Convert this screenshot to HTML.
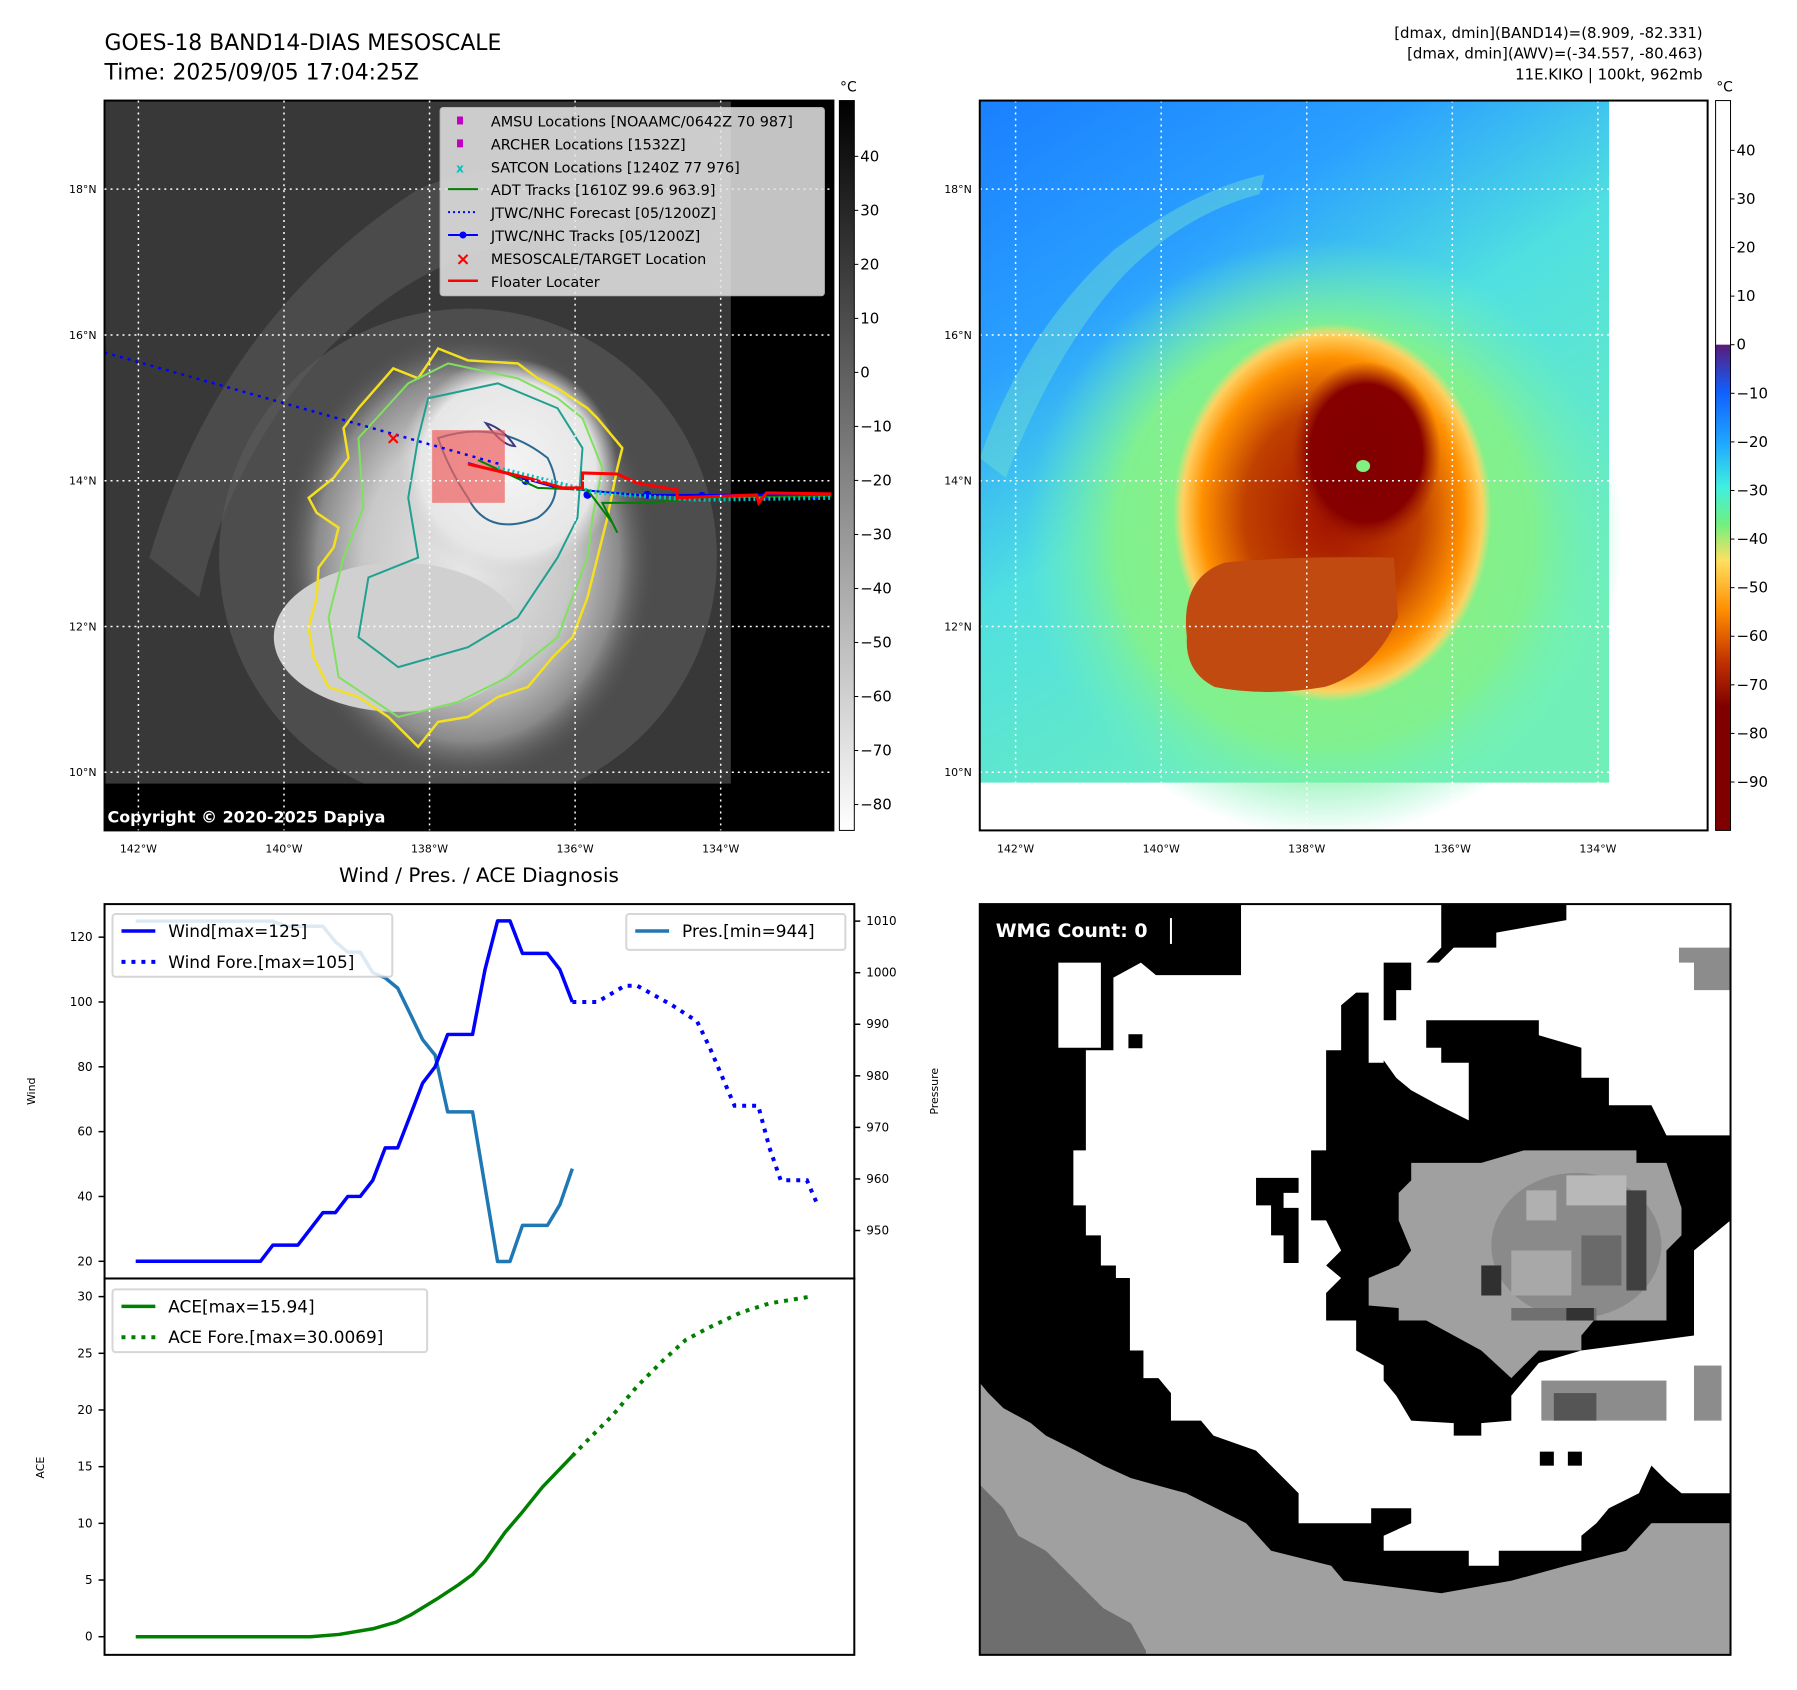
<!DOCTYPE html>
<html><head><meta charset="utf-8">
<style>
html,body{margin:0;padding:0;background:#fff;}
svg{display:block;font-family:"DejaVu Sans","Liberation Sans",sans-serif;}
</style></head>
<body>
<svg id="fig" width="1797" height="1690" viewBox="0 0 1797 1690" xmlns="http://www.w3.org/2000/svg">
<defs>
  <linearGradient id="gray-cb" x1="0" y1="0" x2="0" y2="1">
    <stop offset="0" stop-color="#000"/><stop offset="1" stop-color="#fff"/>
  </linearGradient>
  <linearGradient id="jet-cb" x1="0" y1="0" x2="0" y2="1">
    <stop offset="0" stop-color="#fff"/><stop offset="0.3345" stop-color="#fff"/>
    <stop offset="0.3346" stop-color="#5a1a7a"/>
    <stop offset="0.40" stop-color="#1060ff"/>
    <stop offset="0.47" stop-color="#20a8ff"/>
    <stop offset="0.53" stop-color="#40f0e0"/>
    <stop offset="0.58" stop-color="#70f080"/>
    <stop offset="0.63" stop-color="#ffe060"/>
    <stop offset="0.70" stop-color="#ff8c00"/>
    <stop offset="0.77" stop-color="#c03000"/>
    <stop offset="0.83" stop-color="#800000"/>
    <stop offset="1" stop-color="#800000"/>
  </linearGradient>
  <radialGradient id="ir-cloud" cx="0.5" cy="0.5" r="0.5">
    <stop offset="0" stop-color="#e8e8e8"/><stop offset="0.55" stop-color="#c8c8c8"/>
    <stop offset="0.8" stop-color="#8a8a8a"/><stop offset="1" stop-color="#4a4a4a" stop-opacity="0"/>
  </radialGradient>
  <radialGradient id="ir-core" cx="0.5" cy="0.5" r="0.5">
    <stop offset="0" stop-color="#f4f4f4"/><stop offset="0.8" stop-color="#e6e6e6"/><stop offset="1" stop-color="#d0d0d0" stop-opacity="0"/>
  </radialGradient>
  <linearGradient id="awv-bg" x1="0" y1="0" x2="0.6" y2="1">
    <stop offset="0" stop-color="#1a80ff"/><stop offset="0.3" stop-color="#2aa0ff"/>
    <stop offset="0.55" stop-color="#50e0e0"/><stop offset="1" stop-color="#70f0b8"/>
  </linearGradient>
  <radialGradient id="awv-green" cx="0.5" cy="0.5" r="0.5">
    <stop offset="0" stop-color="#90f070"/><stop offset="0.7" stop-color="#80f090"/><stop offset="1" stop-color="#70f0c0" stop-opacity="0"/>
  </radialGradient>
  <radialGradient id="awv-orange" cx="0.5" cy="0.5" r="0.5">
    <stop offset="0" stop-color="#a01000"/><stop offset="0.55" stop-color="#c04000"/>
    <stop offset="0.82" stop-color="#ff9000"/><stop offset="0.94" stop-color="#ffd060"/><stop offset="1" stop-color="#ffe070" stop-opacity="0"/>
  </radialGradient>
  <radialGradient id="awv-core" cx="0.5" cy="0.5" r="0.5">
    <stop offset="0" stop-color="#800000"/><stop offset="0.75" stop-color="#860000"/><stop offset="1" stop-color="#a02000" stop-opacity="0"/>
  </radialGradient>
  <clipPath id="clip-left"><rect x="105" y="101" width="732" height="733"/></clipPath>
  <clipPath id="clip-right"><rect x="984" y="101" width="731" height="733"/></clipPath>
</defs>
<g id="root" transform="scale(0.9957)">
<!-- Titles -->
<text x="105" y="50" font-size="22">GOES-18 BAND14-DIAS MESOSCALE</text>
<text x="105" y="80" font-size="22">Time: 2025/09/05 17:04:25Z</text>
<g font-size="15" text-anchor="end">
  <text x="1710" y="38">[dmax, dmin](BAND14)=(8.909, -82.331)</text>
  <text x="1710" y="59">[dmax, dmin](AWV)=(-34.557, -80.463)</text>
  <text x="1710" y="80">11E.KIKO | 100kt, 962mb</text>
</g>

<!-- LEFT MAP -->
<g clip-path="url(#clip-left)">
  <rect x="105" y="101" width="732" height="733" fill="#383838"/>
  <path d="M150 560 Q220 320 420 190 Q540 140 640 200 L620 240 Q460 220 330 350 Q230 460 200 600 Z" fill="#5e5e5e" opacity="0.5"/>
  <ellipse cx="470" cy="560" rx="250" ry="250" fill="#5c5c5c" opacity="0.6"/>
  <ellipse cx="470" cy="560" rx="190" ry="230" fill="url(#ir-cloud)"/>
  <ellipse cx="400" cy="640" rx="125" ry="75" fill="#d0d0d0"/>
  <ellipse cx="510" cy="470" rx="110" ry="110" fill="url(#ir-core)"/>
  <rect x="734" y="101" width="103" height="733" fill="#000"/>
  <rect x="105" y="787" width="732" height="47" fill="#000"/>
  <path d="M395 370 L420 380 L440 350 L470 362 L520 365 L540 380 L560 390 L590 410 L600 420 L625 450 L620 470 L610 520 L600 560 L590 600 L575 640 L555 660 L530 690 L500 700 L470 720 L440 725 L420 750 L390 720 L360 700 L330 690 L315 660 L310 630 L318 600 L320 570 L335 550 L340 530 L318 515 L310 500 L335 480 L350 460 L345 430 L360 410 Z" fill="none" stroke="#f5e020" stroke-width="2.5"/>
  <path d="M410 385 L450 365 L520 380 L560 400 L585 420 L605 470 L595 520 L590 560 L560 640 L510 680 L460 705 L400 720 L340 680 L330 620 L345 560 L365 510 L360 440 Z" fill="none" stroke="#80e060" stroke-width="2"/>
  <path d="M430 400 L500 385 L560 410 L585 450 L580 520 L560 560 L520 620 L470 650 L400 670 L360 640 L370 580 L420 560 L410 500 L420 440 Z" fill="none" stroke="#20a090" stroke-width="2"/>
  <path d="M440 440 Q500 420 550 460 Q570 500 540 520 Q490 540 470 500 Q450 470 440 440 Z" fill="none" stroke="#2a6a90" stroke-width="2"/>
  <path d="M488 425 Q505 430 517 448 Q505 448 488 425 Z" fill="none" stroke="#3a3a80" stroke-width="2"/>
  <rect x="434" y="432" width="73" height="73" fill="#f06060" opacity="0.7"/>
  <path d="M105 354 L505 467" stroke="#0000ff" stroke-width="2.5" stroke-dasharray="3,5" fill="none"/>
  <path d="M470 465 L560 490 L640 497 L835 497" stroke="#0000ff" stroke-width="2" fill="none"/>
  <g fill="#0000ff"><circle cx="528" cy="483" r="4"/><circle cx="590" cy="497" r="4"/><circle cx="650" cy="497" r="4"/><circle cx="705" cy="498" r="4"/><circle cx="770" cy="498" r="4"/><circle cx="818" cy="498" r="4"/></g>
  <path d="M480 462 L540 490 L590 492 L615 525 L620 535 L605 505 L650 505 L700 500 L835 498" stroke="#008000" stroke-width="2" fill="none"/>
  <path d="M500 470 L600 495 L700 502 L835 500" stroke="#00c0c0" stroke-width="4" stroke-dasharray="2,3" fill="none"/>
  <path d="M470 466 L530 480 L565 490 L585 490 L585 475 L620 476 L640 485 L680 492 L680 500 L760 497 L762 505 L770 495 L835 496" stroke="#ff0000" stroke-width="3" fill="none"/>
  <text x="395" y="446" font-size="18" fill="#ff0000" font-weight="bold" text-anchor="middle">×</text>
</g>
<rect x="105" y="101" width="732" height="733" fill="none" stroke="#000" stroke-width="2"/>
<text x="108" y="826" font-size="16" font-weight="bold" fill="#fff">Copyright © 2020-2025 Dapiya</text>
<g id="left-grid" stroke="#fff" stroke-width="1.5" stroke-dasharray="2,4"></g>

<g>
  <rect x="442" y="108" width="386" height="189" rx="3" fill="#e6e6e6" opacity="0.85" stroke="#ccc"/>
  <g font-size="14.5" fill="#000">
    <rect x="459" y="117" width="6" height="8" fill="#c000c0"/><text x="493" y="127">AMSU Locations [NOAAMC/0642Z 70 987]</text>
    <rect x="459" y="140" width="6" height="8" fill="#c000c0"/><text x="493" y="150">ARCHER Locations [1532Z]</text>
    <text x="462" y="173" fill="#00c0c0" font-size="12" text-anchor="middle" font-weight="bold">x</text><text x="493" y="173">SATCON Locations [1240Z 77 976]</text>
    <line x1="450" y1="190" x2="480" y2="190" stroke="#008000" stroke-width="2"/><text x="493" y="196">ADT Tracks [1610Z 99.6 963.9]</text>
    <line x1="450" y1="213" x2="480" y2="213" stroke="#0000ff" stroke-width="2" stroke-dasharray="2,3"/><text x="493" y="219">JTWC/NHC Forecast [05/1200Z]</text>
    <line x1="450" y1="236" x2="480" y2="236" stroke="#0000ff" stroke-width="2"/><circle cx="465" cy="236" r="3.5" fill="#0000ff"/><text x="493" y="242">JTWC/NHC Tracks [05/1200Z]</text>
    <text x="465" y="266" fill="#ff0000" font-size="18" text-anchor="middle" font-weight="bold">×</text><text x="493" y="265">MESOSCALE/TARGET Location</text>
    <line x1="450" y1="282" x2="480" y2="282" stroke="#ff0000" stroke-width="2.5"/><text x="493" y="288">Floater Locater</text>
  </g>
</g>
<rect x="843" y="101" width="15" height="733" fill="url(#gray-cb)" stroke="#000" stroke-width="1"/>
<text x="852" y="92" font-size="14" text-anchor="middle">°C</text>
<g id="left-cb-ticks" font-size="15"></g>

<!-- RIGHT MAP -->
<g clip-path="url(#clip-right)">
  <rect x="984" y="101" width="731" height="733" fill="#fff"/>
  <rect x="984" y="101" width="632" height="685" fill="url(#awv-bg)"/>
  <path d="M984 460 Q1030 330 1120 250 Q1200 190 1270 175 L1265 195 Q1190 215 1130 275 Q1060 350 1010 480 Z" fill="#70e0d0" opacity="0.45"/>
  <ellipse cx="1330" cy="540" rx="300" ry="300" fill="url(#awv-green)"/>
  <ellipse cx="1338" cy="515" rx="160" ry="190" fill="url(#awv-orange)"/>
  <path d="M1192 640 Q1185 580 1230 565 Q1300 558 1400 560 L1404 620 Q1380 675 1330 690 Q1270 700 1220 690 Q1190 675 1192 640 Z" fill="#c04a10"/>
  <ellipse cx="1372" cy="455" rx="75" ry="92" fill="url(#awv-core)"/>
  <ellipse cx="1369" cy="468" rx="7" ry="6" fill="#80f080"/>
  <g id="right-grid" stroke="#fff" stroke-width="1.5" stroke-dasharray="2,4"></g>
</g>
<rect x="984" y="101" width="731" height="733" fill="none" stroke="#000" stroke-width="2"/>
<rect x="1723" y="101" width="15" height="733" fill="url(#jet-cb)" stroke="#000" stroke-width="1"/>
<text x="1732" y="92" font-size="14" text-anchor="middle">°C</text>
<g id="right-cb-ticks" font-size="15"></g>
<g id="map-axis-labels" font-size="11"></g>

<text x="481" y="886" font-size="20" text-anchor="middle">Wind / Pres. / ACE Diagnosis</text>

<g>
  <svg x="984" y="908" width="754" height="754" viewBox="8 8 1500 1500" preserveAspectRatio="none">
    <rect x="0" y="0" width="1520" height="1520" fill="#fff"/>
    <path d="M0 955 L25 985 L55 1015 L110 1045 L140 1070 L200 1100 L255 1130 L310 1155 L420 1185 L480 1215 L540 1245 L590 1300 L710 1330 L735 1360 L930 1385 L1070 1360 L1180 1330 L1300 1300 L1350 1245 L1508 1245 L1508 1510 L0 1510 Z" fill="#a0a0a0"/>
    <path d="M0 1160 L25 1185 L55 1215 L85 1270 L140 1300 L170 1330 L200 1360 L225 1385 L255 1415 L310 1445 L340 1500 L340 1510 L0 1510 Z" fill="#6e6e6e"/>
    <path d="M0 0 L530 0 L530 150 L360 150 L330 125 L275 155 L275 300 L220 300 L220 500 L195 500 L195 610 L220 610 L220 670 L250 670 L250 730 L280 730 L280 755 L308 755 L308 900 L335 900 L335 955 L365 955 L390 985 L390 1040 L450 1040 L475 1070 L560 1100 L590 1130 L620 1160 L645 1185 L645 1245 L790 1245 L790 1215 L870 1215 L870 1245 L815 1270 L815 1300 L985 1300 L985 1330 L1045 1330 L1045 1300 L1210 1300 L1210 1270 L1240 1245 L1265 1215 L1325 1185 L1350 1130 L1380 1160 L1410 1185 L1508 1185 L1508 1245 L1350 1245 L1300 1300 L1180 1330 L1070 1360 L930 1385 L735 1360 L710 1330 L590 1300 L540 1245 L480 1215 L420 1185 L310 1155 L255 1130 L200 1100 L140 1070 L110 1045 L55 1015 L25 985 L0 955 Z" fill="#000"/>
    <rect x="165" y="125" width="85" height="170" fill="#fff"/>
    <rect x="305" y="268" width="28" height="28" fill="#000"/>
    <path d="M930 0 L1180 0 L1180 40 L1040 65 L1040 95 L955 95 L925 125 L870 125 L870 180 L840 180 L840 240 L815 240 L815 320 L840 355 L870 380 L925 410 L985 440 L985 325 L930 325 L930 295 L900 295 L900 240 L1125 240 L1125 270 L1210 295 L1210 355 L1265 355 L1265 410 L1350 410 L1380 470 L1508 470 L1508 640 L1435 700 L1435 870 L1210 900 L1125 925 L1070 990 L1070 1040 L1010 1045 L1010 1070 L955 1070 L955 1045 L870 1040 L840 990 L815 960 L815 930 L760 900 L760 840 L700 840 L700 785 L730 755 L700 730 L730 700 L700 640 L670 640 L670 500 L700 500 L700 410 L700 300 L730 300 L730 210 L760 185 L785 185 L785 325 L815 325 L815 125 L900 125 L930 95 Z" fill="#000"/>
    <path d="M560 555 L645 555 L645 585 L615 585 L615 615 L645 615 L645 725 L615 725 L615 670 L590 670 L590 610 L560 610 Z" fill="#000"/>
    <path d="M870 525 L1010 525 L1095 500 L1320 500 L1320 525 L1380 525 L1410 615 L1410 670 L1380 700 L1380 840 L1235 840 L1210 870 L1210 900 L1125 900 L1095 930 L1070 955 L1010 900 L955 870 L900 840 L845 840 L845 815 L785 810 L785 755 L845 730 L870 700 L845 640 L845 585 L870 560 Z" fill="#a0a0a0"/>
    <ellipse cx="1200" cy="690" rx="170" ry="145" fill="#8a8a8a"/>
    <rect x="1100" y="580" width="60" height="60" fill="#b0b0b0"/><rect x="1180" y="550" width="120" height="60" fill="#b8b8b8"/>
    <rect x="1070" y="700" width="120" height="90" fill="#a8a8a8"/><rect x="1210" y="670" width="80" height="100" fill="#6a6a6a"/>
    <rect x="1300" y="580" width="40" height="200" fill="#404040"/><rect x="1010" y="730" width="40" height="60" fill="#303030"/>
    <rect x="1070" y="815" width="170" height="25" fill="#707070"/><rect x="1180" y="815" width="55" height="25" fill="#333"/>
    <rect x="1130" y="960" width="250" height="80" fill="#8c8c8c"/><rect x="1155" y="985" width="85" height="55" fill="#555"/>
    <rect x="1435" y="930" width="55" height="110" fill="#8c8c8c"/>
    <path d="M1380 95 L1508 95 L1508 180 L1435 180 L1435 125 L1405 125 L1405 95 Z" fill="#8c8c8c"/>
    <rect x="1127" y="1102" width="28" height="28" fill="#000"/><rect x="1183" y="1102" width="28" height="28" fill="#000"/>
  </svg>
  <rect x="984" y="908" width="754" height="754" fill="none" stroke="#000" stroke-width="2"/>
  <text x="1000" y="941" font-size="19" font-weight="bold" fill="#fff">WMG Count: 0</text>
  <line x1="1176" y1="922" x2="1176" y2="948" stroke="#fff" stroke-width="2"/>
</g>

<g id="wind-chart"></g>
<g id="ace-chart"></g>
</g>
</svg>

<script>
// ---- chart data ----
const windObsX = [0,10,11,13,15,16,17,18,19,20,21,22,23,24,25,27,28,29,30,31,33,34,35];
const windObsY = [20,20,25,25,35,35,40,40,45,55,55,65,75,80,90,90,110,125,125,115,115,110,100];
const windForeX = [35,37,39.2,40.2,43,45,46,47,48,49.9,50.8,51.7,53.8,54.7];
const windForeY = [100,100,105,105,99,94,86,77,68,68,55,45,45,37];
const presX = [0,11,12,15,16,17,18,19,20,21,22,23,24,25,27,29,30,31,33,34,35];
const presY = [1010,1010,1009,1009,1006,1004,1004,1000,999,997,992,987,984,973,973,944,944,951,951,955,962];
const aceObsX = [0,14,16.3,19,20.9,22,24.1,25.9,27,28,29.6,31,32.6,34,35];
const aceObsY = [0,0,0.2,0.7,1.3,1.9,3.3,4.6,5.5,6.7,9.2,11,13.2,14.8,15.94];
const aceForeX = [35,36.1,38.2,40.2,42.3,44.1,46,48.5,50.8,54.1];
const aceForeY = [15.94,17.2,19.5,22.1,24.4,26.2,27.3,28.6,29.4,30.0];
const windTicks = [20,40,60,80,100,120];
const presTicks = [950,960,970,980,990,1000,1010];
const aceTicks = [0,5,10,15,20,25,30];
const irCbTicks = [40,30,20,10,0,-10,-20,-30,-40,-50,-60,-70,-80];
const awvCbTicks = [40,30,20,10,0,-10,-20,-30,-40,-50,-60,-70,-80,-90];
const lonLabels = ["142°W","140°W","138°W","136°W","134°W"];
const lonValues = [-142,-140,-138,-136,-134];
const latLabels = ["18°N","16°N","14°N","12°N","10°N"];
const latValues = [18,16,14,12,10];

const NS = "http://www.w3.org/2000/svg";
function mk(tag, attrs, parent){const e=document.createElementNS(NS,tag);for(const k in attrs)e.setAttribute(k,attrs[k]);if(parent)parent.appendChild(e);return e;}

const AX = {l:105, r:858, t:908, m:1284, b:1662};
const xMin=-2.5, xMax=57.6;
const sx = v => AX.l + (v-xMin)/(xMax-xMin)*(AX.r-AX.l);
const wMin=14.7, wMax=130.2;
const sw = v => AX.m - (v-wMin)/(wMax-wMin)*(AX.m-AX.t);
const pMin=940.7, pMax=1013.3;
const sp = v => AX.m - (v-pMin)/(pMax-pMin)*(AX.m-AX.t);
const aMin=-1.6, aMax=31.6;
const sa = v => AX.b - (v-aMin)/(aMax-aMin)*(AX.b-AX.m);
function pts(xs,ys,fy){return xs.map((x,i)=>sx(x).toFixed(1)+","+fy(ys[i]).toFixed(1)).join(" ");}

const wg = document.getElementById("wind-chart");
const ag = document.getElementById("ace-chart");

let el;
el = mk("polyline",{points:pts(presX,presY,sp),fill:"none",stroke:"#1f77b4","stroke-width":3.5,"stroke-linejoin":"round"},wg);


el = mk("polyline",{points:pts(windObsX,windObsY,sw),fill:"none",stroke:"#0000ff","stroke-width":3.5,"stroke-linejoin":"round"},wg);


el = mk("polyline",{points:pts(windForeX,windForeY,sw),fill:"none",stroke:"#0000ff","stroke-width":4,"stroke-dasharray":"4,6"},wg);


el = mk("polyline",{points:pts(aceObsX,aceObsY,sa),fill:"none",stroke:"#008000","stroke-width":3.5,"stroke-linejoin":"round"},ag);


el = mk("polyline",{points:pts(aceForeX,aceForeY,sa),fill:"none",stroke:"#008000","stroke-width":4,"stroke-dasharray":"4,6"},ag);



mk("rect",{x:AX.l,y:AX.t,width:AX.r-AX.l,height:AX.m-AX.t,fill:"none",stroke:"#000","stroke-width":2},wg);
mk("rect",{x:AX.l,y:AX.m,width:AX.r-AX.l,height:AX.b-AX.m,fill:"none",stroke:"#000","stroke-width":2},ag);

windTicks.forEach(v=>{const y=sw(v);
  mk("line",{x1:AX.l-6,y1:y,x2:AX.l,y2:y,stroke:"#000","stroke-width":1.5},wg);
  const t=mk("text",{x:AX.l-12,y:y+4,"font-size":12,"text-anchor":"end"},wg);t.textContent=v;
  
  });
presTicks.forEach(v=>{const y=sp(v);
  mk("line",{x1:AX.r,y1:y,x2:AX.r+6,y2:y,stroke:"#000","stroke-width":1.5},wg);
  const t=mk("text",{x:AX.r+12,y:y+4,"font-size":12},wg);t.textContent=v;
  
  });
aceTicks.forEach(v=>{const y=sa(v);
  mk("line",{x1:AX.l-6,y1:y,x2:AX.l,y2:y,stroke:"#000","stroke-width":1.5},ag);
  const t=mk("text",{x:AX.l-12,y:y+4,"font-size":12,"text-anchor":"end"},ag);t.textContent=v;
  
  });

el=mk("text",{x:0,y:0,"font-size":11,"text-anchor":"middle",transform:"translate(35,1096) rotate(-90)"},wg);el.textContent="Wind";


el=mk("text",{x:0,y:0,"font-size":11,"text-anchor":"middle",transform:"translate(942,1096) rotate(-90)"},wg);el.textContent="Pressure";


el=mk("text",{x:0,y:0,"font-size":11,"text-anchor":"middle",transform:"translate(44,1474) rotate(-90)"},ag);el.textContent="ACE";



function legend(g,x,y,w,h,items,name){
  const lg=mk("g",{},g);
  
  
  mk("rect",{x:x,y:y,width:w,height:h,rx:3,fill:"#fff",opacity:0.85,stroke:"#d0d0d0","stroke-width":2},lg);
  items.forEach((it,i)=>{const cy=y+17+i*31;
    const a={x1:x+9,y1:cy,x2:x+43,y2:cy,stroke:it.c,"stroke-width":it.d?4:3.5};
    if(it.d)a["stroke-dasharray"]="4,6";
    mk("line",a,lg);
    const t=mk("text",{x:x+56,y:cy+6,"font-size":17},lg);t.textContent=it.t;});
}
legend(wg,113,918,281,63,[{c:"#0000ff",t:"Wind[max=125]"},{c:"#0000ff",t:"Wind Fore.[max=105]",d:1}],"wind-legend");
legend(wg,629,918,220,36,[{c:"#1f77b4",t:"Pres.[min=944]"}],"pressure-legend");
legend(ag,113,1295,316,63,[{c:"#008000",t:"ACE[max=15.94]"},{c:"#008000",t:"ACE Fore.[max=30.0069]",d:1}],"ace-legend");

const lonPxL = v => 139 + (v+142)*73.1;
const lonPxR = v => 1020 + (v+142)*73.1;
const latPx = v => 190 + (18-v)*73.2;
const lg=document.getElementById("left-grid"), rg=document.getElementById("right-grid"), ml=document.getElementById("map-axis-labels");
lonValues.forEach((v,i)=>{
  mk("line",{x1:lonPxL(v),y1:101,x2:lonPxL(v),y2:834},lg);
  mk("line",{x1:lonPxR(v),y1:101,x2:lonPxR(v),y2:834},rg);
  let t=mk("text",{x:lonPxL(v),y:856,"text-anchor":"middle"},ml);t.textContent=lonLabels[i];
  t=mk("text",{x:lonPxR(v),y:856,"text-anchor":"middle"},ml);t.textContent=lonLabels[i];
});
latValues.forEach((v,i)=>{
  mk("line",{x1:105,y1:latPx(v),x2:837,y2:latPx(v)},lg);
  mk("line",{x1:984,y1:latPx(v),x2:1715,y2:latPx(v)},rg);
  let t=mk("text",{x:97,y:latPx(v)+4,"text-anchor":"end"},ml);t.textContent=latLabels[i];
  t=mk("text",{x:976,y:latPx(v)+4,"text-anchor":"end"},ml);t.textContent=latLabels[i];
});
const lcb=document.getElementById("left-cb-ticks"), rcb=document.getElementById("right-cb-ticks");
irCbTicks.forEach(v=>{const y=157+(40-v)*5.425;
  mk("line",{x1:858,y1:y,x2:862,y2:y,stroke:"#000"},lcb);
  const t=mk("text",{x:864,y:y+5},lcb);t.textContent=v<0?"\u2212"+(-v):v;});
awvCbTicks.forEach(v=>{const y=151+(40-v)*4.88;
  mk("line",{x1:1738,y1:y,x2:1742,y2:y,stroke:"#000"},rcb);
  const t=mk("text",{x:1744,y:y+5},rcb);t.textContent=v<0?"\u2212"+(-v):v;});
</script>
</body></html>
